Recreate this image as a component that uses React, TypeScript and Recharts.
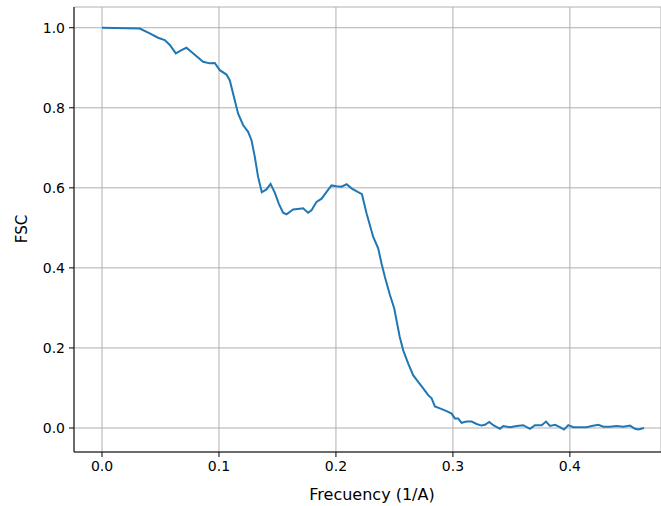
import React from 'react';
import { LineChart, Line, XAxis, YAxis, CartesianGrid, Label } from 'recharts';

// spatial frequency (1/A)
const freq = [
  0.0, 0.0323, 0.0408, 0.0479, 0.0536, 0.058, 0.0631, 0.0679, 0.0722, 0.0778,
  0.0864, 0.0921, 0.0964, 0.1007, 0.1064, 0.1092, 0.1135, 0.1163, 0.1206, 0.1249,
  0.1278, 0.1306, 0.1334, 0.1366, 0.1406, 0.1441, 0.1477, 0.1512, 0.1548, 0.1577,
  0.1634, 0.1691, 0.1719, 0.1762, 0.1791, 0.1834, 0.1877, 0.192, 0.1962, 0.2005,
  0.2048, 0.2091, 0.2136, 0.219, 0.2222, 0.2262, 0.2318, 0.2361, 0.239, 0.2418,
  0.2461, 0.2498, 0.2545, 0.2575, 0.2618, 0.266, 0.2703, 0.2746, 0.2789, 0.2818,
  0.2846, 0.2889, 0.2946, 0.2989, 0.3017, 0.3045, 0.3074, 0.3117, 0.316, 0.3203,
  0.3245, 0.3274, 0.3311, 0.3345, 0.3402, 0.343, 0.3488, 0.3545, 0.3601, 0.3659,
  0.3701, 0.3759, 0.3796, 0.383, 0.3873, 0.3915, 0.395, 0.3986, 0.4029, 0.4087,
  0.4144, 0.4187, 0.4243, 0.4286, 0.4343, 0.44, 0.4457, 0.4514, 0.4557, 0.4585,
  0.4634,
];

const fsc = [
  1.0, 0.998, 0.986, 0.975, 0.969, 0.957, 0.936, 0.944, 0.95, 0.936,
  0.915, 0.911, 0.912, 0.894, 0.883, 0.869, 0.819, 0.786, 0.757, 0.74,
  0.719, 0.678, 0.628, 0.589, 0.596, 0.61, 0.588, 0.56, 0.538, 0.534,
  0.546, 0.548, 0.549, 0.538, 0.544, 0.565, 0.573, 0.59, 0.606, 0.604,
  0.603, 0.609, 0.598, 0.589, 0.584, 0.536, 0.478, 0.449, 0.411, 0.378,
  0.333, 0.299, 0.228, 0.194, 0.161, 0.132, 0.115, 0.099, 0.082, 0.074,
  0.054, 0.049, 0.042, 0.036, 0.024, 0.024, 0.013, 0.016, 0.016, 0.01,
  0.006, 0.008, 0.015, 0.007, -0.002, 0.005, 0.002, 0.005, 0.007, -0.002,
  0.007, 0.007, 0.016, 0.005, 0.008, 0.002, -0.004, 0.007, 0.002, 0.002,
  0.002, 0.005, 0.008, 0.003, 0.003, 0.005, 0.003, 0.006, -0.002, -0.004,
  0.0,
];

const xTicks = [0, 0.1, 0.2, 0.3, 0.4];
const yTicks = [0, 0.2, 0.4, 0.6, 0.8, 1.0];

const data = freq.map((f, i) => ({ freq: f, fsc: fsc[i] }));

const FONT = 'DejaVu Sans, sans-serif';
const tickStyle = { fill: '#000', fontSize: 14, fontFamily: FONT };

export default function App() {
  return (
    <div style={{ width: 661, height: 506, overflow: 'hidden', background: '#fff' }}>
      <style>{'body{margin:0}'}</style>
      <LineChart width={661} height={506} data={data} margin={{ top: 7, right: 0, left: 0, bottom: 0 }}>
        <CartesianGrid stroke="#b0b0b0" strokeWidth={1} />
        <XAxis
          dataKey="freq"
          type="number"
          domain={[-0.02395, 0.4779]}
          allowDataOverflow
          ticks={xTicks}
          tickFormatter={(v: number) => v.toFixed(1)}
          height={54}
          tick={tickStyle}
          tickSize={5}
          tickMargin={4}
          stroke="#000"
          axisLine={{ stroke: '#000' }}
          tickLine={{ stroke: '#000' }}
        >
          <Label
            content={() => (
              <text x={372} y={500} textAnchor="middle" fontSize={16} fontFamily={FONT} fill="#000">
                Frecuency (1/A)
              </text>
            )}
          />
        </XAxis>
        <XAxis
          xAxisId="top"
          orientation="top"
          type="number"
          domain={[-0.02395, 0.4779]}
          height={0}
          tick={false}
          tickLine={false}
          axisLine={{ stroke: '#000' }}
        />
        <YAxis
          type="number"
          domain={[-0.06, 1.0518]}
          allowDataOverflow
          ticks={yTicks}
          tickFormatter={(v: number) => v.toFixed(1)}
          width={74}
          tick={tickStyle}
          tickSize={5}
          tickMargin={4}
          axisLine={{ stroke: '#000' }}
          tickLine={{ stroke: '#000' }}
        >
          <Label
            content={() => (
              <text
                x={0}
                y={0}
                transform="translate(27 229) rotate(-90)"
                textAnchor="middle"
                fontSize={15}
                fontFamily={FONT}
                fill="#000"
              >
                FSC
              </text>
            )}
          />
        </YAxis>
        <Line
          type="linear"
          dataKey="fsc"
          stroke="#1f77b4"
          strokeWidth={2}
          dot={false}
          isAnimationActive={false}
        />
      </LineChart>
    </div>
  );
}
